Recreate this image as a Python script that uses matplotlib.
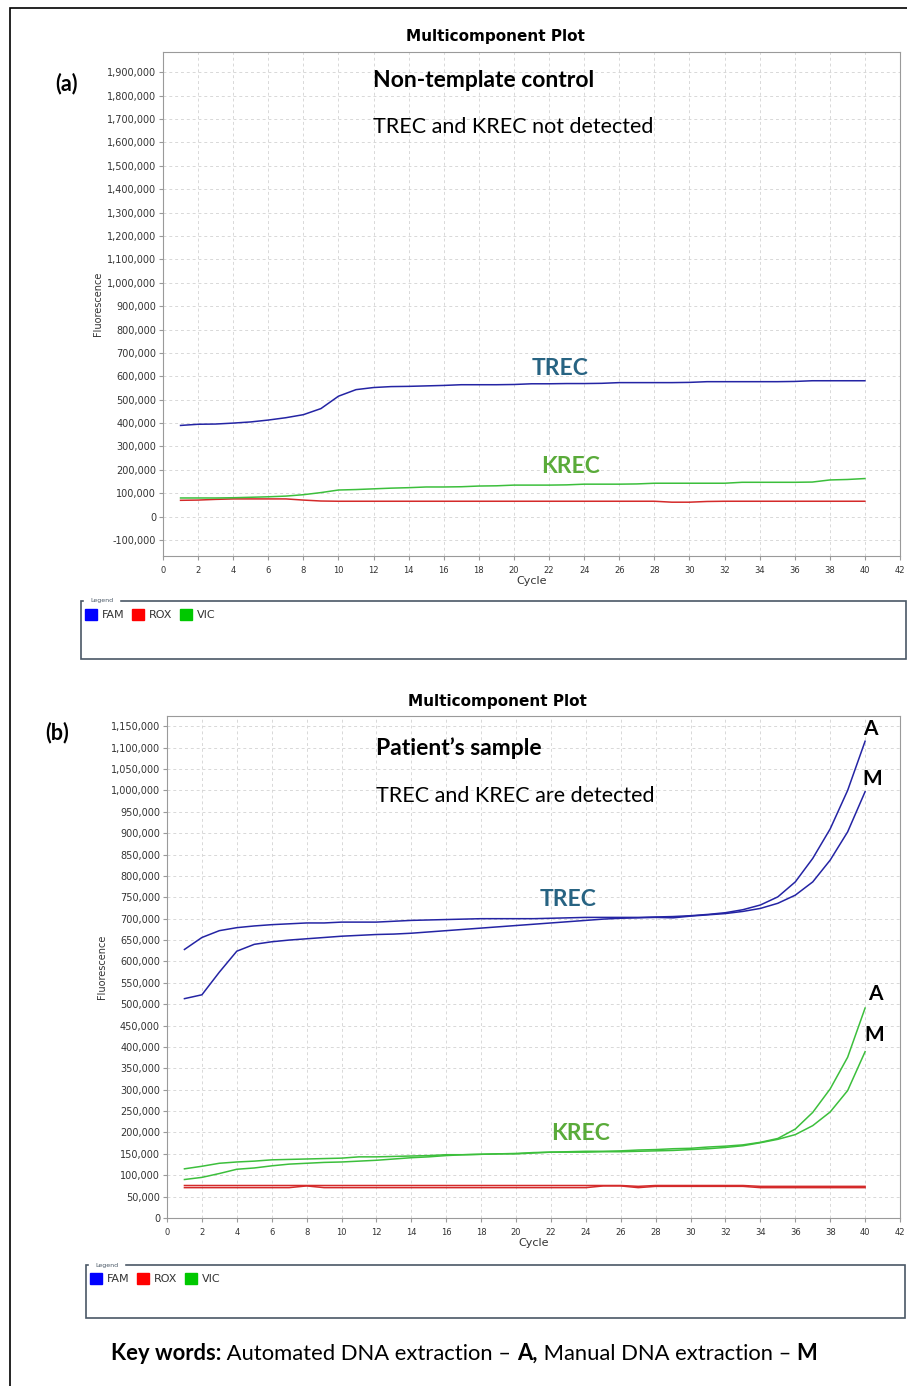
import numpy as np
import matplotlib.pyplot as plt
from matplotlib.patches import Patch, Rectangle
from matplotlib.ticker import FuncFormatter, MultipleLocator

# cycles 1..40
cycles = list(range(1, 41))

# (a) non-template control, values in thousands
fam_ntc = [390, 395, 396, 400, 405, 413, 423, 436, 462, 515,
           543, 552, 556, 557, 559, 561, 564, 564, 564, 565,
           568, 568, 569, 569, 570, 573, 573, 573, 573, 574,
           577, 577, 577, 577, 577, 578, 581, 581, 581, 581]
vic_ntc = [80, 80, 80, 81, 83, 85, 88, 94, 103, 114,
           116, 119, 122, 124, 127, 127, 128, 131, 132, 135,
           135, 135, 136, 139, 139, 139, 140, 143, 143, 143,
           143, 143, 147, 147, 147, 147, 148, 157, 159, 163]
rox_ntc = [70, 71, 74, 76, 76, 76, 76, 71, 67, 66,
           66, 66, 66, 66, 66, 66, 66, 66, 66, 66,
           66, 66, 66, 66, 66, 66, 66, 66, 62, 62,
           65, 66, 66, 66, 66, 66, 66, 66, 66, 66]

# (b) patient's sample, A = automated, M = manual extraction (thousands)
fam_a = [628, 656, 672, 679, 683, 686, 688, 690, 690, 692,
         692, 692, 694, 696, 697, 698, 699, 700, 700, 700,
         700, 701, 702, 703, 703, 703, 703, 704, 705, 707,
         710, 714, 721, 732, 751, 786, 841, 910, 1000, 1115]
fam_m = [513, 522, 575, 624, 640, 646, 650, 653, 656, 659,
         661, 663, 664, 666, 669, 672, 675, 678, 681, 684,
         687, 690, 693, 696, 699, 701, 702, 703, 702, 706,
         709, 712, 717, 724, 736, 755, 786, 837, 903, 997]
vic_a = [115, 121, 128, 131, 133, 136, 137, 138, 139, 140,
         143, 143, 144, 145, 146, 148, 148, 149, 150, 150,
         152, 154, 155, 156, 156, 157, 159, 160, 162, 163,
         166, 168, 171, 177, 186, 208, 247, 302, 376, 491]
vic_m = [90, 95, 104, 114, 117, 122, 126, 128, 130, 131,
         133, 135, 138, 141, 143, 146, 148, 149, 150, 151,
         153, 154, 154, 154, 155, 155, 156, 157, 158, 160,
         162, 165, 169, 176, 184, 195, 216, 248, 298, 389]
rox_a = [76] * 26 + [74] + [76] * 6 + [74] * 7
rox_m = [71] * 7 + [75] + [71] * 16 + [75, 75, 71] + [74] * 6 + [71] * 7

W, H = 907, 1386
def fx(px): return px / W
def fy(py): return 1 - py / H

FAM_C = '#2424a4'
ROX_C = '#d42a2a'
VIC_C = '#3cbf3c'
TREC_C = '#276382'
KREC_C = '#5aab3a'
TXT_FONT = ['Lato', 'DejaVu Sans']

fig = plt.figure(figsize=(W / 100, H / 100), dpi=100)
fig.patches.append(Rectangle((fx(10), fy(1400)), fx(910) - fx(10), fy(8) - fy(1400),
                             transform=fig.transFigure, fill=False, ec='black', lw=1.2))

comma = FuncFormatter(lambda v, p: f'{int(round(v)):,}')

def style_axes(ax, ylo, yhi, ystep):
    ax.set_xlim(0, 42)
    ax.set_ylim(ylo, yhi)
    ax.xaxis.set_major_locator(MultipleLocator(2))
    ax.yaxis.set_major_locator(MultipleLocator(ystep))
    ax.yaxis.set_major_formatter(comma)
    ax.grid(True, color='#d8d8d8', ls=(0, (3, 3)), lw=0.7)
    ax.set_axisbelow(True)
    for s in ax.spines.values():
        s.set_color('#9a9a9a')
        s.set_linewidth(0.8)
    ax.tick_params(axis='y', labelsize=7, colors='#9a9a9a', labelcolor='#333333', length=3, pad=2)
    ax.tick_params(axis='x', labelsize=6, colors='#9a9a9a', labelcolor='#333333', length=3, pad=4)
    ax.set_xlabel('Cycle', fontsize=8, color='#333333', labelpad=1)
    ax.set_ylabel('Fluorescence', fontsize=7, color='#333333', labelpad=3)

def draw_legend(x0, y0, x1, y1):
    fig.patches.append(Rectangle((fx(x0), fy(y1)), fx(x1) - fx(x0), fy(y0) - fy(y1),
                                 transform=fig.transFigure, fill=False, ec='#4a5866', lw=1.2))
    fig.text(fx(x0 + 9), fy(y0), 'Legend', fontsize=4.5, color='#4a5866',
             ha='left', va='center', backgroundcolor='white')
    handles = [Patch(color='#0000ff'), Patch(color='#ff0000'), Patch(color='#00c800')]
    fig.legend(handles, ['FAM', 'ROX', 'VIC'], loc='upper left',
               bbox_to_anchor=(fx(x0 - 6), fy(y0 - 2)), ncol=3, frameon=False,
               fontsize=8, handlelength=1.1, handleheight=1.1, handletextpad=0.4,
               columnspacing=0.7, labelcolor='#333333')

k = 1000

# ---- panel (a)
ax1 = fig.add_axes([fx(163), fy(556), fx(900) - fx(163), fy(52) - fy(556)])
style_axes(ax1, -168000, 1986000, 100000)
ax1.plot(cycles, np.array(rox_ntc) * k, color=ROX_C, lw=1.1)
ax1.plot(cycles, np.array(vic_ntc) * k, color=VIC_C, lw=1.1)
ax1.plot(cycles, np.array(fam_ntc) * k, color=FAM_C, lw=1.1)
ax1.text(11.95, 1866000, 'Non-template control', fontsize=16.5, fontweight='bold',
         family=TXT_FONT, va='center', ha='left')
ax1.text(11.95, 1665000, 'TREC and KREC not detected', fontsize=15.5,
         family=TXT_FONT, va='center', ha='left')
ax1.text(22.6, 632000, 'TREC', fontsize=16.5, fontweight='bold', color=TREC_C,
         family=TXT_FONT, va='center', ha='center')
ax1.text(23.2, 214000, 'KREC', fontsize=16.5, fontweight='bold', color=KREC_C,
         family=TXT_FONT, va='center', ha='center')
fig.text(fx(495), fy(36), 'Multicomponent Plot', fontsize=11, fontweight='bold',
         ha='center', va='center')
fig.text(fx(66), fy(84), '(a)', fontsize=15.5, fontweight='bold', family=TXT_FONT,
         ha='center', va='center')
draw_legend(81, 601, 906, 659)

# ---- panel (b)
ax2 = fig.add_axes([fx(167), fy(1218), fx(900) - fx(167), fy(716) - fy(1218)])
style_axes(ax2, 0, 1174000, 50000)
ax2.plot(cycles, np.array(rox_a) * k, color=ROX_C, lw=1.1)
ax2.plot(cycles, np.array(rox_m) * k, color=ROX_C, lw=1.1)
ax2.plot(cycles, np.array(vic_a) * k, color=VIC_C, lw=1.1)
ax2.plot(cycles, np.array(vic_m) * k, color=VIC_C, lw=1.1)
ax2.plot(cycles, np.array(fam_a) * k, color=FAM_C, lw=1.1)
ax2.plot(cycles, np.array(fam_m) * k, color=FAM_C, lw=1.1)
ax2.text(12.0, 1099000, 'Patient\u2019s sample', fontsize=16.5, fontweight='bold',
         family=TXT_FONT, va='center', ha='left')
ax2.text(12.0, 987000, 'TREC and KREC are detected', fontsize=15.5,
         family=TXT_FONT, va='center', ha='left')
ax2.text(23.0, 746000, 'TREC', fontsize=16.5, fontweight='bold', color=TREC_C,
         family=TXT_FONT, va='center', ha='center')
ax2.text(23.7, 198000, 'KREC', fontsize=16.5, fontweight='bold', color=KREC_C,
         family=TXT_FONT, va='center', ha='center')
for xx, yy, s in [(40.3, 1143000, 'A'), (40.4, 1026000, 'M'),
                  (40.6, 523000, 'A'), (40.5, 427000, 'M')]:
    ax2.text(xx, yy, s, fontsize=15, fontweight='bold', family=TXT_FONT,
             va='center', ha='center', clip_on=False)
fig.text(fx(497), fy(702), 'Multicomponent Plot', fontsize=11, fontweight='bold',
         ha='center', va='center')
fig.text(fx(57), fy(733), '(b)', fontsize=15.5, fontweight='bold', family=TXT_FONT,
         ha='center', va='center')
draw_legend(86, 1265, 905, 1318)

# ---- key words line, pieces chained left to right
pieces = [('Key words:', 'bold'), (' Automated DNA extraction \u2013 ', 'normal'),
          ('A,', 'bold'), (' Manual DNA extraction \u2013 ', 'normal'), ('M', 'bold')]
prev = fig.text(fx(111), fy(1364), pieces[0][0], fontsize=15.8, fontweight=pieces[0][1],
                family=TXT_FONT, ha='left', va='bottom')
for s, w in pieces[1:]:
    prev = fig.add_artist(plt.Annotation(s, xy=(1, 0), xycoords=prev, fontsize=15.8,
                                         fontweight=w, family=TXT_FONT,
                                         ha='left', va='bottom'))

fig.savefig('out.png', dpi=100)
